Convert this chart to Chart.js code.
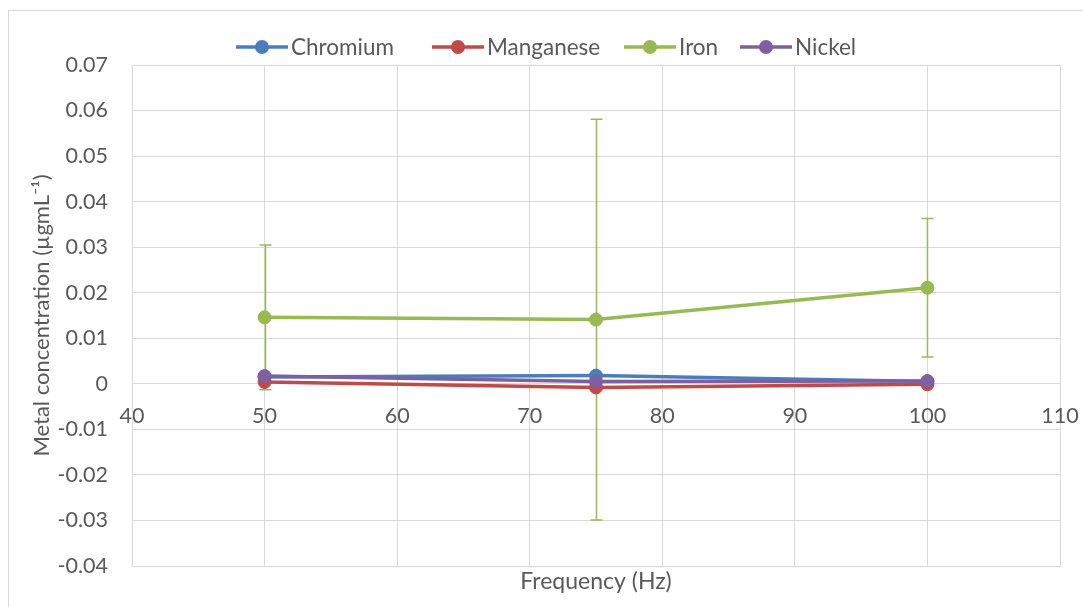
<!DOCTYPE html>
<html><head><meta charset="utf-8">
<script src="https://cdn.jsdelivr.net/npm/chart.js@4/dist/chart.umd.min.js"></script>
<style>html,body{margin:0;padding:0;background:#fff;overflow:hidden}
#wrap{position:absolute;left:0;top:0;width:1083px;height:607px}</style>
</head><body><div id="wrap"><canvas id="c" width="1083" height="607"></canvas></div>
<script>
const frequencies = [50, 75, 100];
const chromium  = [0.0015, 0.0018, 0.0005];
const manganese = [0.0004, -0.0008, -0.0001];
const iron      = [0.0146, 0.0141, 0.0211];
const ironError = [0.0159, 0.0440, 0.0152];
const nickel    = [0.0017, 0.0005, 0.0006];
const seriesNames = ['Chromium', 'Manganese', 'Iron', 'Nickel'];
const xTickValues = [40, 50, 60, 70, 80, 90, 100, 110];
const yTickValues = [-0.04, -0.03, -0.02, -0.01, 0, 0.01, 0.02, 0.03, 0.04, 0.05, 0.06, 0.07];

const FONT = 'Lato';
const TXT = '#595959';
const GRID = '#d9d9d9';
const colors = ['#4a7ebb', '#be4b48', '#98b954', '#7d60a0'];
const seriesValues = [chromium, manganese, iron, nickel];
const drawOrder = [4, 3, 2, 1];
const legendX = [236, 432, 624, 740];

function pts(vals) { return frequencies.map((f, i) => ({x: f, y: vals[i]})); }

const datasets = seriesNames.map((name, i) => ({
  label: name,
  data: pts(seriesValues[i]),
  borderColor: colors[i],
  backgroundColor: colors[i],
  pointBackgroundColor: colors[i],
  pointBorderColor: colors[i],
  borderWidth: 3.5,
  pointRadius: 6.5,
  pointBorderWidth: 1,
  tension: 0,
  order: drawOrder[i],
  xAxisID: 'x',
  yAxisID: 'y'
}));

function noPad(s) { s.paddingLeft = 0; s.paddingRight = 0; s.paddingTop = 0; s.paddingBottom = 0; }

const decor = {
  id: 'decor',
  beforeDraw(chart) {
    const ctx = chart.ctx;
    ctx.save();
    ctx.fillStyle = '#fff';
    ctx.fillRect(0, 0, chart.width, chart.height);
    ctx.strokeStyle = GRID;
    ctx.lineWidth = 1;
    ctx.strokeRect(8.5, 10.5, 1200, 800);
    ctx.restore();
  },
  beforeDatasetsDraw(chart) {
    const ctx = chart.ctx, xs = chart.scales.x, ys = chart.scales.y;
    ctx.save();
    ctx.strokeStyle = colors[2];
    ctx.lineWidth = 1.5;
    frequencies.forEach((f, i) => {
      const px = Math.round(xs.getPixelForValue(f)) + 0.5;
      const top = ys.getPixelForValue(iron[i] + ironError[i]);
      const bot = ys.getPixelForValue(iron[i] - ironError[i]);
      ctx.beginPath();
      ctx.moveTo(px, top); ctx.lineTo(px, bot);
      ctx.moveTo(px - 6, top); ctx.lineTo(px + 6, top);
      ctx.moveTo(px - 6, bot); ctx.lineTo(px + 6, bot);
      ctx.stroke();
    });
    ctx.restore();
  },
  afterDraw(chart) {
    const ctx = chart.ctx;
    ctx.save();
    const y = 47;
    seriesNames.forEach((name, i) => {
      const x0 = legendX[i];
      ctx.strokeStyle = colors[i];
      ctx.lineWidth = 3.5;
      ctx.beginPath(); ctx.moveTo(x0, y); ctx.lineTo(x0 + 52, y); ctx.stroke();
      ctx.fillStyle = colors[i];
      ctx.beginPath(); ctx.arc(x0 + 26, y, 7, 0, Math.PI * 2); ctx.fill();
      ctx.fillStyle = TXT;
      ctx.font = '22.5px ' + FONT;
      ctx.textBaseline = 'middle';
      ctx.textAlign = 'left';
      ctx.fillText(name, x0 + 55, y + 1);
    });
    ctx.restore();
  }
};

new Chart(document.getElementById('c'), {
  type: 'line',
  data: { datasets },
  plugins: [decor],
  options: {
    responsive: false,
    animation: false,
    devicePixelRatio: 1,
    layout: { padding: { left: 10, top: 65, right: 23, bottom: 0 } },
    plugins: { legend: { display: false }, tooltip: { enabled: false } },
    scales: {
      x: {
        type: 'linear', position: 'bottom', min: 40, max: 110,
        afterBuildTicks: s => { s.ticks = xTickValues.map(v => ({value: v})); },
        afterFit: s => { s.height = 41; noPad(s); },
        ticks: { display: false },
        grid: { color: GRID, lineWidth: 1, drawTicks: false },
        border: { color: GRID, width: 1 },
        title: { display: true, text: 'Frequency (Hz)', color: TXT, font: { family: FONT, size: 23 }, padding: { top: 0, bottom: 12 } }
      },
      x2: {
        type: 'linear', position: { y: 0 }, min: 40, max: 110,
        afterBuildTicks: s => { s.ticks = xTickValues.map(v => ({value: v})); },
        afterFit: s => { noPad(s); },
        ticks: { color: TXT, font: { family: FONT, size: 21.5 }, padding: 19, maxRotation: 0, autoSkip: false },
        grid: { display: false, drawTicks: false },
        border: { display: false }
      },
      y: {
        type: 'linear', position: 'left', min: -0.04, max: 0.07,
        afterBuildTicks: s => { s.ticks = yTickValues.map(v => ({value: v})); },
        afterFit: s => { s.width = 122; noPad(s); },
        ticks: { color: TXT, font: { family: FONT, size: 21.5 }, padding: 24,
          callback: v => String(Number(v.toFixed(2))) },
        grid: { color: GRID, lineWidth: 1, drawTicks: false },
        border: { color: GRID, width: 1 },
        title: { display: true, text: 'Metal concentration (µgmL⁻¹)', color: TXT, font: { family: FONT, size: 22 }, padding: { top: 19, bottom: 0 } }
      }
    }
  }
});
</script></body></html>
